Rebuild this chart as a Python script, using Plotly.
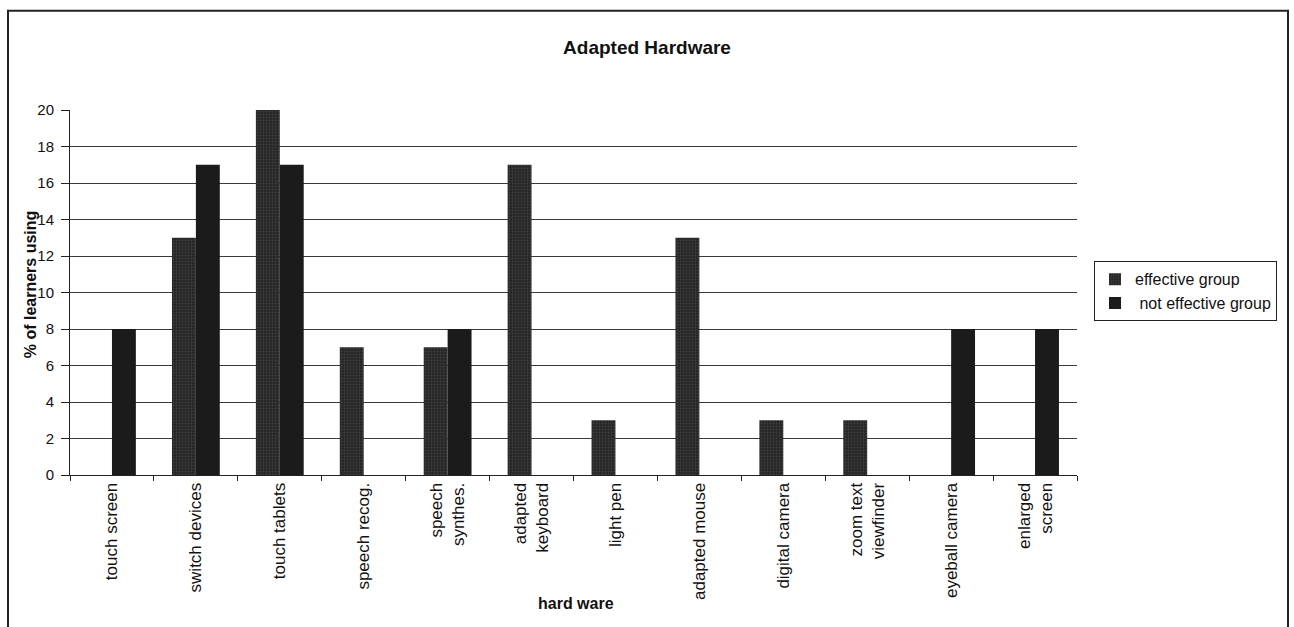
import plotly.graph_objects as go

# Hardware categories and the share of learners using each one
categories = [
    "touch screen", "switch devices", "touch tablets", "speech recog.",
    "speech<br>synthes.", "adapted<br>keyboard", "light pen", "adapted mouse",
    "digital camera", "zoom text<br>viewfinder", "eyeball camera", "enlarged<br>screen",
]
effective = [0, 13, 20, 7, 7, 17, 3, 13, 3, 3, 0, 0]
not_effective = [8, 17, 17, 0, 8, 0, 0, 0, 0, 0, 8, 8]
y_ticks = list(range(0, 21, 2))

FONT = "Liberation Sans, Arial, sans-serif"

fig = go.Figure()
fig.add_trace(go.Bar(
    x=categories, y=effective, name="effective group",
    marker=dict(
        color="#262626",
        line=dict(width=0),
        pattern=dict(shape=".", fgcolor="#575757", size=3, solidity=0.3),
    ),
))
fig.add_trace(go.Bar(
    x=categories, y=not_effective, name=" not effective group",
    marker=dict(color="#1b1b1b", line=dict(width=0)),
))

L, R, T, B = 70, 217, 109.5, 152
plot_w = 1294 - L - R
plot_h = 627 - T - B

def px_x(px):
    return (px - L) / plot_w

def px_y(py):
    return (627 - B - py) / plot_h

fig.update_layout(
    width=1294, height=627,
    margin=dict(l=L, r=R, t=T, b=B, autoexpand=False),
    paper_bgcolor="white", plot_bgcolor="white",
    barmode="group", bargap=0.43, bargroupgap=0,
    font=dict(family=FONT, size=16, color="#111"),
    title=dict(
        text="<b>Adapted Hardware</b>", x=0.5, xanchor="center",
        y=1 - 47 / 627, yanchor="middle",
        font=dict(family=FONT, size=19, color="#111"),
    ),
    showlegend=True,
    legend=dict(
        x=px_x(1094), y=px_y(261), xanchor="left", yanchor="top",
        bordercolor="#222", borderwidth=1, bgcolor="white",
        font=dict(family=FONT, size=16, color="#111"),
        tracegroupgap=0, itemwidth=30,
    ),
    xaxis=dict(
        type="category", tickangle=-90,
        showline=True, linecolor="#222", linewidth=1,
        ticks="outside", tickson="boundaries", ticklen=5, tickcolor="#222",
        showgrid=False, tickfont=dict(family=FONT, size=17, color="#111"),
        automargin=False,
    ),
    yaxis=dict(
        range=[0, 20], tickvals=y_ticks,
        showline=True, linecolor="#222", linewidth=1,
        ticks="outside", ticklen=8, tickcolor="#222",
        showgrid=True, gridcolor="#3a3a3a", gridwidth=1.3,
        zeroline=False, tickfont=dict(family=FONT, size=15, color="#111"),
        ticklabelstandoff=4,
        automargin=False,
    ),
    annotations=[
        dict(text="<b>% of learners using</b>", xref="paper", yref="paper",
             x=px_x(30), y=px_y(284), textangle=-90, showarrow=False,
             xanchor="center", yanchor="middle",
             font=dict(family=FONT, size=16, color="#111")),
        dict(text="<b>hard ware</b>", xref="paper", yref="paper",
             x=px_x(576), y=px_y(604), showarrow=False,
             xanchor="center", yanchor="middle",
             font=dict(family=FONT, size=16, color="#111")),
    ],
    shapes=[
        dict(type="rect", xref="paper", yref="paper",
             x0=px_x(8), x1=px_x(1288), y0=px_y(660), y1=px_y(10),
             line=dict(color="#222", width=2), fillcolor="rgba(0,0,0,0)",
             layer="below"),
    ],
)

fig.write_html("out.html")
